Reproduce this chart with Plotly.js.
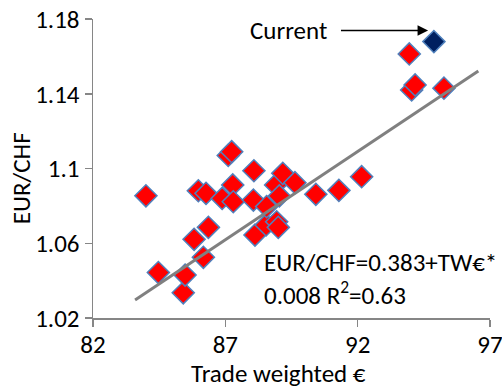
<!DOCTYPE html>
<html>
<head>
<meta charset="utf-8">
<script src="https://cdn.plot.ly/plotly-3.0.1.min.js"></script>
<style>html,body{margin:0;padding:0;background:#fff;}#chart{width:502px;height:388px;}</style>
</head>
<body>
<div id="chart"></div>
<script>
// Historical observations: trade weighted euro vs EUR/CHF
const tradeWeighted = [84.0, 84.47, 85.41, 85.48, 85.82, 86.17, 86.36, 85.98, 86.27, 86.88,
  87.11, 87.24, 87.28, 87.30, 88.08, 88.06, 88.12, 88.54, 88.56, 88.90,
  88.94, 89.0, 89.04, 89.17, 89.63, 90.42, 91.29, 92.15, 93.95, 94.04,
  94.17, 95.26];
const eurChf = [1.0854, 1.0443, 1.0335, 1.043, 1.0621, 1.0525, 1.0685, 1.0881, 1.0867, 1.084,
  1.107, 1.109, 1.0912, 1.0822, 1.0988, 1.0831, 1.0644, 1.0698, 1.0796, 1.0912,
  1.0715, 1.0685, 1.0853, 1.0974, 1.0924, 1.0862, 1.0883, 1.0956, 1.1613, 1.142,
  1.1447, 1.143];
// Current observation
const currentTW = [94.88];
const currentEurChf = [1.1679];
// Linear fit line end points
const trendX = [83.59, 96.56];
const trendY = [1.0296, 1.1522];
// Axis ticks
const xTicks = [82, 87, 92, 97];
const xTickText = ["82", "87", "92", "97"];
const yTicks = [1.02, 1.06, 1.10, 1.14, 1.18];
const yTickText = ["1.02", "1.06", "1.1", "1.14", "1.18"];
// "Current" label position and the arrow tip it points to
const labelAt = [89.386, 1.1738];
const arrowTo = [94.66, 1.1738];
// Texts
const xTitle = "Trade weighted €";
const yTitle = "EUR/CHF";
const currentLabel = "Current";
const equationText = "EUR/CHF=0.383+TW€*<br>0.008 R<sup>2</sup>=0.63";

const FONT = "Carlito, Calibri, Lato, 'Liberation Sans', sans-serif";
const FS = 25;
const blueEdge = "#4f81bd";

const traces = [
  {
    x: tradeWeighted, y: eurChf, type: "scatter", mode: "markers", name: "History",
    marker: {symbol: "diamond", size: 17, color: "#ff0000", line: {color: blueEdge, width: 1.5}}
  },
  {
    x: trendX, y: trendY, type: "scatter", mode: "lines", name: "Fit",
    line: {color: "#808080", width: 3}
  },
  {
    x: currentTW, y: currentEurChf, type: "scatter", mode: "markers", name: "Current",
    marker: {symbol: "diamond", size: 17, color: "#002060", line: {color: blueEdge, width: 1.5}}
  }
];

const txt = {family: FONT, size: FS, color: "#000"};

const layout = {
  width: 502, height: 388,
  margin: {l: 93, r: 12, t: 19, b: 70, pad: 0},
  paper_bgcolor: "#fff", plot_bgcolor: "#fff",
  showlegend: false,
  font: txt,
  xaxis: {
    range: [82, 97], tickvals: xTicks, ticktext: xTickText,
    showgrid: false, zeroline: false,
    showline: true, linecolor: "#868686", linewidth: 1.5,
    ticks: "outside", ticklen: 7, tickcolor: "#868686", tickwidth: 1.5,
    ticklabeloverflow: "allow", ticklabelstandoff: -4,
    tickfont: txt
  },
  yaxis: {
    range: [1.02, 1.18], tickvals: yTicks, ticktext: yTickText,
    showgrid: false, zeroline: false,
    showline: true, linecolor: "#868686", linewidth: 1.5,
    ticks: "outside", ticklen: 7, tickcolor: "#868686", tickwidth: 1.5,
    tickfont: txt
  },
  annotations: [
    {
      x: 0.466, y: -0.187, xref: "paper", yref: "paper", xanchor: "center", yanchor: "middle",
      text: xTitle, showarrow: false, font: txt
    },
    {
      x: -0.181, y: 0.468, xref: "paper", yref: "paper", xanchor: "center", yanchor: "middle",
      text: yTitle, textangle: -90, showarrow: false, font: txt
    },
    {
      x: arrowTo[0], y: arrowTo[1], ax: labelAt[0], ay: labelAt[1],
      xref: "x", yref: "y", axref: "x", ayref: "y",
      text: currentLabel, font: txt, borderpad: 14, borderwidth: 0,
      showarrow: true, arrowhead: 2, arrowsize: 1.4, arrowwidth: 1.5, arrowcolor: "#000"
    },
    {
      x: 0.426, y: 0.129, xref: "paper", yref: "paper", xanchor: "left", yanchor: "middle",
      align: "left", showarrow: false,
      text: equationText, font: txt
    }
  ]
};

Plotly.newPlot("chart", traces, layout, {displayModeBar: false, staticPlot: true});
</script>
</body>
</html>
